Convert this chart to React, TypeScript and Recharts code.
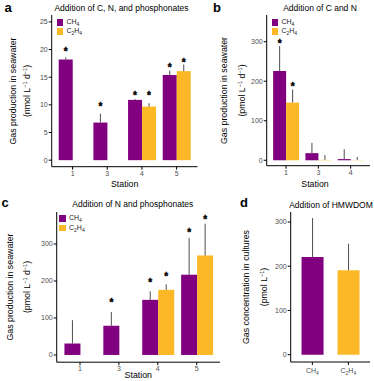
import React from 'react';
import { BarChart, Bar, XAxis, YAxis, ErrorBar, Legend, Cell } from 'recharts';

const FONT = '"Liberation Sans", Arial, Helvetica, sans-serif';
const PURPLE = '#800080';
const GOLD = '#FCB826';
const INK = '#4d4d4d';

// a: addition of C, N and phosphonates (nmol L-1 d-1)
const stationsA = ['1', '3', '4', '5'];
const ch4A = [18.2, 6.8, 10.9, 15.4];
const ch4ErrA = [0.4, 1.6, 0.15, 0.8];
const ch4SigA = [20, 10, 12, 17.1];
const c2h4A = [null, null, 9.7, 16.1];
const c2h4ErrA = [null, null, 0.6, 1.2];
const c2h4SigA = [null, null, 12, 18];
const ticksA = [0, 5, 10, 15, 20, 25];

// b: addition of C and N (pmol L-1 d-1)
const stationsB = ['1', '3', '4'];
const ch4B = [226, 18, 3];
const ch4ErrB = [63, 26, 25];
const ch4SigB = [300, null, null];
const c2h4B = [146, 1, 0.5];
const c2h4ErrB = [33, 12, 8];
const c2h4SigB = [191, null, null];
const ticksB = [0, 100, 200, 300];

// c: addition of N and phosphonates (pmol L-1 d-1)
const stationsC = ['1', '3', '4', '5'];
const ch4C = [31, 79, 149, 217];
const ch4ErrC = [63, 37, 23, 99];
const ch4SigC = [null, 146, 201, 336];
const c2h4C = [null, null, 176, 269];
const c2h4ErrC = [null, null, 15, 86];
const c2h4SigC = [null, null, 217, 371];
const ticksC = [0, 100, 200, 300];

// d: addition of HMWDOM (pmol L-1)
const gasesD = ['CH4', 'C2H4'];
const concD = [221, 191];
const concErrD = [88, 60];
const ticksD = [0, 100, 200, 300];

type N = number | null;

const makeRows = (stations: string[], ch4: N[], ch4Err: N[], ch4Sig: N[], c2h4: N[], c2h4Err: N[], c2h4Sig: N[]) =>
  stations.map((station, i) => ({
    station,
    ch4: ch4[i],
    ch4Err: ch4Err[i] == null ? null : [0, ch4Err[i]],
    ch4Sig: ch4Sig[i],
    c2h4: c2h4[i],
    c2h4Err: c2h4Err[i] == null ? null : [0, c2h4Err[i]],
    c2h4Sig: c2h4Sig[i],
  }));

const rowsA = makeRows(stationsA, ch4A, ch4ErrA, ch4SigA, c2h4A, c2h4ErrA, c2h4SigA);
const rowsB = makeRows(stationsB, ch4B, ch4ErrB, ch4SigB, c2h4B, c2h4ErrB, c2h4SigB);
const rowsC = makeRows(stationsC, ch4C, ch4ErrC, ch4SigC, c2h4C, c2h4ErrC, c2h4SigC);
const rowsD = gasesD.map((gas, i) => ({ gas, conc: concD[i], concErr: [0, concErrD[i]] }));

// digits in a formula become subscripts
const formulaSvg = (label: string, small = 5, shift = 2) => {
  const parts = label.split(/(\d)/).filter(Boolean);
  let down = false;
  return parts.map((p, i) => {
    if (/\d/.test(p)) {
      const el = <tspan key={i} fontSize={small} dy={down ? 0 : shift}>{p}</tspan>;
      down = true;
      return el;
    }
    const el = <tspan key={i} dy={down ? -shift : 0}>{p}</tspan>;
    down = false;
    return el;
  });
};

const formulaHtml = (label: string) =>
  label.split(/(\d)/).filter(Boolean).map((p, i) =>
    /\d/.test(p) ? <sub key={i} style={{ fontSize: 5, verticalAlign: -1.5 }}>{p}</sub> : <span key={i}>{p}</span>
  );

const sigBar = (valueKey: string, sigKey: string) => (props: any) => {
  const { x, y, width, height, fill, payload } = props;
  const v = payload?.[valueKey];
  if (v == null || !height) return <g />;
  const sig = payload[sigKey];
  const perUnit = height / v;
  return (
    <g>
      <rect x={x} y={y} width={width} height={height} fill={fill} />
      {sig != null && (
        <text x={x + width / 2} y={y - (sig - v) * perUnit + 5.5} textAnchor="middle"
          fontSize={10} fontWeight="bold" fontFamily={FONT} fill="#000" stroke="#000" strokeWidth={0.4}>*</text>
      )}
    </g>
  );
};

const seriesOrder = ['ch4', 'c2h4'];

const LegendBox = ({ payload }: any) => {
  const items = [...(payload || [])].sort(
    (a: any, b: any) => seriesOrder.indexOf(a.dataKey) - seriesOrder.indexOf(b.dataKey)
  );
  return (
    <div style={{ fontFamily: FONT, fontSize: 7, color: '#222', lineHeight: 1 }}>
      {items.map((p: any) => (
        <div key={p.value} style={{ display: 'flex', alignItems: 'center', height: 9.4 }}>
          <span style={{ width: 6.7, height: 6.7, background: p.color, marginRight: 3, display: 'inline-block' }} />
          <span>{formulaHtml(p.value)}</span>
        </div>
      ))}
    </div>
  );
};

const FormulaTick = ({ x, y, payload }: any) => (
  <text x={x} y={y + 7} textAnchor="middle" fontSize={7} fontFamily={FONT} fill={INK}>
    {formulaSvg(payload.value, 5, 1.8)}
  </text>
);

const tickStyle = { fill: INK, fontSize: 7, fontFamily: FONT };

type Box = { left: number; top: number; width: number; height: number; yw: number; pad: number };

function StationPanel({ rows, box, domain, ticks, legendAt }: {
  rows: any[]; box: Box; domain: [number, number]; ticks: number[]; legendAt: [number, number];
}) {
  return (
    <div style={{ position: 'absolute', left: box.left, top: box.top }}>
      <BarChart width={box.width} height={box.height} data={rows}
        margin={{ top: 0, right: 0, bottom: 0, left: 0 }} barCategoryGap="10%" barGap={0}>
        <XAxis dataKey="station" height={20} tickSize={3} tickMargin={1} stroke="#000"
          tick={tickStyle} interval={0} padding={{ left: box.pad, right: box.pad }} />
        <YAxis type="number" width={box.yw} domain={domain} ticks={ticks} allowDataOverflow
          interval={0} tickSize={3} tickMargin={1} stroke="#000" tick={tickStyle} />
        <Legend layout="vertical" align="center" verticalAlign="middle" content={<LegendBox />}
          wrapperStyle={{ left: legendAt[0] - box.left, top: legendAt[1] - box.top, width: 40 }} />
        <Bar dataKey="ch4" name="CH4" fill={PURPLE} isAnimationActive={false} shape={sigBar('ch4', 'ch4Sig')}>
          <ErrorBar dataKey="ch4Err" width={0} stroke={INK} strokeWidth={1} direction="y" />
        </Bar>
        <Bar dataKey="c2h4" name="C2H4" fill={GOLD} isAnimationActive={false} shape={sigBar('c2h4', 'c2h4Sig')}>
          <ErrorBar dataKey="c2h4Err" width={0} stroke={INK} strokeWidth={1} direction="y" />
        </Bar>
      </BarChart>
    </div>
  );
}

function YTitle({ x1, x2, cy, unit }: { x1: number; x2: number; cy: number; unit: React.ReactNode }) {
  return (
    <g fontSize={8.8} fill="#000" textAnchor="middle">
      <text transform={`translate(${x1 + 3},${cy}) rotate(-90)`}>Gas production in seawater</text>
      <text transform={`translate(${x2 + 3},${cy}) rotate(-90)`}>{unit}</text>
    </g>
  );
}

const perDay = (
  <>
    <tspan>(pmol L</tspan>
    <tspan fontSize={5.5} dy={-3}>−1</tspan>
    <tspan dy={3}> d</tspan>
    <tspan fontSize={5.5} dy={-3}>−1</tspan>
    <tspan dy={3}>)</tspan>
  </>
);

export default function App() {
  return (
    <div style={{ position: 'absolute', left: 0, top: 0, width: 374, height: 381, background: '#fff', overflow: 'hidden' }}>
      <StationPanel rows={rowsA} domain={[-1.18, 26.25]} ticks={ticksA} legendAt={[56.7, 17.5]}
        box={{ left: 0, top: 15, width: 197.5, height: 171.7, yw: 51.7, pad: 3.55 }} />
      <StationPanel rows={rowsB} domain={[-13.7, 367.6]} ticks={ticksB} legendAt={[271.7, 17.5]}
        box={{ left: 215, top: 15, width: 155, height: 170.7, yw: 51.7, pad: 3.2 }} />
      <StationPanel rows={rowsC} domain={[-19.5, 386.5]} ticks={ticksC} legendAt={[59.3, 214]}
        box={{ left: 0, top: 212.3, width: 220, height: 170.2, yw: 56.7, pad: 3.85 }} />

      <div style={{ position: 'absolute', left: 240, top: 212.3 }}>
        <BarChart width={130} height={170} data={rowsD} margin={{ top: 0, right: 0, bottom: 0, left: 0 }}
          barCategoryGap="20%">
          <XAxis dataKey="gas" height={20} tickSize={3} tickMargin={1} stroke="#000" interval={0}
            tick={<FormulaTick />} padding={{ left: 3.65, right: 3.65 }} />
          <YAxis type="number" width={50.7} domain={[-16.5, 322.6]} ticks={ticksD} allowDataOverflow
            interval={0} tickSize={3} tickMargin={1} stroke="#000" tick={tickStyle} />
          <Bar dataKey="conc" isAnimationActive={false}>
            {rowsD.map((r, i) => <Cell key={r.gas} fill={i === 0 ? PURPLE : GOLD} />)}
            <ErrorBar dataKey="concErr" width={0} stroke={INK} strokeWidth={1} direction="y" />
          </Bar>
        </BarChart>
      </div>

      <svg width={374} height={381} style={{ position: 'absolute', left: 0, top: 0, pointerEvents: 'none' }}>
        <g fontFamily={FONT}>
          <g fontSize={13} fontWeight="bold" fill="#000">
            <text x={4.5} y={11.5}>a</text>
            <text x={213} y={11.5}>b</text>
            <text x={1.5} y={207}>c</text>
            <text x={240} y={207}>d</text>
          </g>
          <g fontSize={8.5} fill="#000" textAnchor="middle">
            <text x={121.5} y={10.5}>Addition of C, N, and phosphonates</text>
            <text x={320} y={10.5}>Addition of C and N</text>
            <text x={132.8} y={206.5}>Addition of N and phosphonates</text>
            <text x={331} y={207.5}>Addition of HMWDOM</text>
          </g>
          <g fontSize={8.8} fill="#000" textAnchor="middle">
            <text x={124.7} y={187.4}>Station</text>
            <text x={315} y={186.6}>Station</text>
            <text x={138.3} y={378}>Station</text>
          </g>
          <YTitle x1={13} x2={27} cy={91} unit={
            <>
              <tspan>(nmol L</tspan>
              <tspan fontSize={5.5} dy={-3}>−1</tspan>
              <tspan dy={3}> d</tspan>
              <tspan fontSize={5.5} dy={-3}>−1</tspan>
              <tspan dy={3}>)</tspan>
            </>
          } />
          <YTitle x1={224} x2={241.7} cy={90.5} unit={perDay} />
          <YTitle x1={10} x2={27} cy={287} unit={perDay} />
          <g fontSize={8.8} fill="#000" textAnchor="middle">
            <text transform={`translate(${246 + 3},287) rotate(-90)`}>Gas concentration in cultures</text>
            <text transform={`translate(${264 + 3},287) rotate(-90)`}>
              <tspan>(pmol L</tspan>
              <tspan fontSize={5.5} dy={-3}>−1</tspan>
              <tspan dy={3}>)</tspan>
            </text>
          </g>
        </g>
      </svg>
    </div>
  );
}
